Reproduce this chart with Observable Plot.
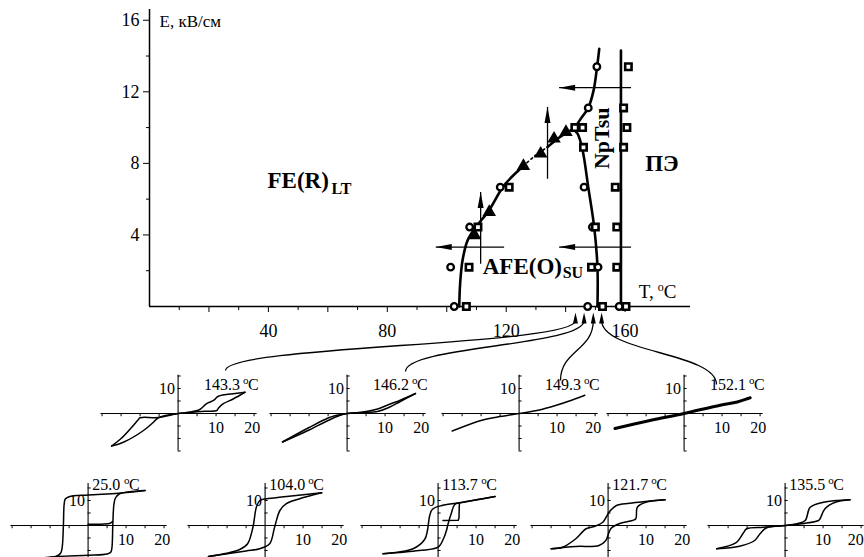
<!DOCTYPE html>
<html><head><meta charset="utf-8">
<script src="https://cdn.jsdelivr.net/npm/d3@7"></script>
<script src="https://cdn.jsdelivr.net/npm/@observablehq/plot@0.6"></script>
<style>
body{margin:0;background:#fff;}
#fig{position:relative;width:864px;height:557px;overflow:hidden;font-family:"Liberation Serif",serif;background:#fff;}
#fig svg{position:absolute;overflow:visible;background:transparent !important;max-width:none;}
#fig svg, #fig svg text, #fig svg g{font-family:"Liberation Serif",serif !important;}
</style></head><body><div id="fig"></div>
<script>
// ---------- main phase diagram data ----------
const circT = [102.5,101.3,107.7,118.0,147.4,150.9,149.0,146.2,147.6,150.5,158.0];
const circE = [0,2.2,4.44,6.67,0,2.2,4.44,6.67,11.1,13.4,0];
const sqT = [106.6,107.5,110.5,121.0,143.1,145.7,146.0,152.4,148.7,150.0,160.3,157.2,157.2,156.7,159.5,160.6,159.5,161.1];
const sqE = [0,2.2,4.44,6.67,10.0,10.0,8.9,0,2.2,4.44,0,2.2,4.44,6.67,8.9,10.0,11.1,13.4];
const triT = [109.4,114.3,125.8,131.6,136.1,140.1];
const triE = [3.97,5.28,7.85,8.54,9.38,9.75];

const feLowT = [104.2,104.5,105.3,107.0,109.8,114.2,119.3,125.8];
const feLowE = [0,1.27,2.57,3.69,4.44,5.37,6.77,7.85];
const feDashT = [125.8,129.5,133.9];
const feDashE = [7.85,8.4,8.91];
const feHighT = [133.9,137.5,140.6,142.9];
const feHighE = [8.91,9.4,9.75,9.94];
const afeT = [150.7,150.7,149.6,147.6,145.7,144.0,142.3];
const afeE = [0,2.2,4.44,6.67,8.73,9.66,9.94];
const npT = [142.9,145.1,147.6,149.4,150.5,151.3];
const npE = [9.94,10.5,11.1,12.08,13.3,14.4];
const peT = [158.6,158.6];
const peE = [0,14.3];

const arrT1 = [119.3,162,162,111.4,133.9];
const arrE1 = [3.32,3.32,12.23,2.39,7.14];
const arrT2 = [96.3,137.8,137.8,111.4,133.9];
const arrE2 = [3.32,3.32,12.23,6.4,11.15];

const xTicksMajor = [20,40,60,80,100,120,140,160];
const xTicksMinor = [10,30,50,70,90,110,130,150];
const xTickLabels = [40,80,120,160];
const yTicksMajor = [4,8,12,16];
const yTicksMinor = [2,6,10,14];

// ---------- hysteresis insets data: [E, P] ----------
const insetTemps = ["143.3","146.2","149.3","152.1","25.0","104.0","113.7","121.7","135.5"];
const asc143 = [[-17.5,-13],[-14.4,-11.5],[-9.1,-6.8],[-6.5,-3.5],[-5.2,-1.7],[-3,-0.7],[0,0],[3.2,0.5],[7,0.9],[10.2,1.2],[10.6,2.1],[11.9,3.9],[14.6,5.9],[17.6,8.5]];
const desc143 = [[17.6,8.5],[15,8],[10.6,6.9],[9.3,5.2],[7.5,3.9],[5.7,1.6],[3,0.5],[0,0],[-5.2,-1.6],[-10,-1.7],[-10.5,-2.5],[-12.5,-6],[-15,-10],[-17.5,-13]];
const asc146 = [[-17,-11.4],[-10,-6.6],[-5,-2.8],[-2,-0.8],[0,0],[3,0.3],[5,0.4],[8,0.8],[11,2.4],[14,4.8],[18,8]];
const desc146 = [[18,8],[14,5.3],[11,3.6],[8,1.8],[5,0.8],[2,0.2],[0,0],[-3,-0.8],[-5,-1.8],[-10,-5.6],[-17,-11.4]];
const line149 = [[-17.6,-7],[-9.8,-2.7],[-5,-1.2],[0,0],[5,1.3],[9.8,3.3],[14,5.4],[17.3,7.3]];
const line152 = [[-18.2,-6],[-9,-2.8],[0,0],[9.5,3.3],[14,4.6],[17.4,6.3]];
const desc25 = [[15,14],[8,12.9],[0,12.2],[-5,11.5],[-6,10.6],[-6.3,8.5],[-6.5,0],[-6.8,-8.5],[-7.2,-11],[-8.2,-12.2],[-15,-13.5]];
const asc25 = [[-15,-13.5],[-8,-12.4],[0,-11.9],[5,-11.4],[6,-10.6],[6.3,-8.5],[6.5,0],[6.8,8.5],[7.2,11],[8.2,12.6],[15,14]];
const virgin25 = [[0,0.5],[5.8,0.9],[6.4,1.6]];
const desc104 = [[14.9,13.1],[5,11.5],[0.4,10.7],[-1.4,10],[-2.3,7.3],[-3.2,-0.7],[-4.6,-7.3],[-6.8,-9.7],[-14.9,-12.4]];
const asc104 = [[-14.9,-12.4],[-5,-10.2],[-1.4,-9.3],[1.2,-7.3],[2.5,-0.7],[3.9,6],[5.6,8.7],[9.1,10.7],[14.9,13.1]];
const desc113 = [[15,11.6],[6.6,9.3],[1,8],[-1.5,6.5],[-2.2,4],[-2.8,-2],[-3.5,-5.5],[-6.6,-9.3],[-14.5,-11.3]];
const asc113 = [[-14.5,-11.3],[-5,-10],[0,-8.7],[1.5,-5],[2.2,-2],[2.6,0.5],[3.5,5],[4.4,8.4],[6.6,9.3],[15,11.6]];
const inner113 = [[1.3,2],[5.3,2.1],[5.5,3],[5.6,9]];
const desc121 = [[15,10.3],[5.7,8.9],[2.2,8],[0.4,5.6],[-1.4,1.3],[-3.5,-0.3],[-5.8,-1.3],[-8.5,-5.3],[-12,-8.7],[-15,-9.3]];
const asc121 = [[-15,-9.3],[-8.5,-8.4],[-2.4,-8],[-0.6,-6],[0.7,-1.3],[2.9,0.7],[6.4,2],[7.3,2.7],[7.7,7.3],[9.9,9.3],[15,10.3]];
const desc135 = [[17.1,10.3],[10.1,9.3],[6.6,7.3],[5.3,2],[3.1,0.7],[0,0],[-5.7,-0.7],[-10.1,-1.3],[-11,-3],[-13,-7],[-18,-9.3]];
const asc135 = [[-18,-9.3],[-12,-8.3],[-8,-6],[-6.6,-3.3],[-5,-1],[0,0],[5,0.8],[8.8,2],[9.2,2.7],[10.5,6.7],[13.2,9.3],[17.1,10.3]];
const insetCurves = [
  [asc143, desc143], [asc146, desc146], [line149], [line152],
  [asc25, desc25, virgin25], [asc104, desc104], [asc113, desc113, inner113], [asc121, desc121], [asc135, desc135]
];

// ---------- layout ----------
const insetX = [178,347,519,684, 88,265,438,608,785];
const insetY = [413,413,413,413, 525,525,525,525,525];
const connOffset = [[47,-43],[58,-42],[41,-33],[32,-29]];

const W = 864, H = 557;
const mL = 149, mR = 174, mT = 9, mB = 251;
const xDom = [0,182], yDom = [0,16.6];
const sx = d3.scaleLinear(xDom, [mL, W - mR]);
const sy = d3.scaleLinear(yDom, [H - mB, mT]);

const headShape = (len, hw) => ({draw(ctx, l) {
  ctx.moveTo(0, -l); ctx.lineTo(-hw, -l + len); ctx.lineTo(hw, -l + len); ctx.closePath();
}});

const pts = (T, E) => T.map((t, i) => ({T: t, E: E[i]}));
const arrIdx = d3.range(arrT1.length);
const arrRot = arrIdx.map(i => {
  const dx = sx(arrT2[i]) - sx(arrT1[i]), dy = sy(arrE2[i]) - sy(arrE1[i]);
  return Math.atan2(dx, -dy) * 180 / Math.PI;
});

const connIdx = [0,1,2,3];
const connTemps = connIdx.map(i => +insetTemps[i]);
const connX1 = connIdx.map(i => sx.invert(insetX[i] + connOffset[i][0]));
const connY1 = connIdx.map(i => sy.invert(insetY[i] + connOffset[i][1]));
const tipE = sy.invert(H - mB + 6);
const baseE = sy.invert(H - mB + 14);

const font = {fontFamily: "Liberation Serif, serif"};

const main = Plot.plot({
  width: W, height: H,
  marginLeft: mL, marginRight: mR, marginTop: mT, marginBottom: mB,
  x: {domain: xDom, axis: null},
  y: {domain: yDom, axis: null},
  style: {...font, background: "transparent", overflow: "visible"},
  marks: [
    Plot.ruleY([0], {strokeWidth: 1.5}),
    Plot.ruleX([0], {strokeWidth: 1.5}),
    Plot.axisX({ticks: xTicksMajor, tickSize: 6, tickPadding: 12, fontSize: 18, label: null,
      tickFormat: d => xTickLabels.includes(d) ? String(d) : ""}),
    Plot.axisX({ticks: xTicksMinor, tickSize: 4, label: null, tickFormat: () => ""}),
    Plot.axisY({ticks: yTicksMajor, tickSize: 6, tickPadding: 4, fontSize: 18, label: null}),
    Plot.axisY({ticks: yTicksMinor, tickSize: 3, label: null, tickFormat: () => ""}),
    // phase boundaries
    Plot.line(pts(feLowT, feLowE), {x: "T", y: "E", curve: "catmull-rom", strokeWidth: 2.6}),
    Plot.line(pts(feDashT, feDashE), {x: "T", y: "E", curve: "catmull-rom", strokeWidth: 1.6, strokeDasharray: "2,3"}),
    Plot.line(pts(feHighT, feHighE), {x: "T", y: "E", curve: "catmull-rom", strokeWidth: 2.6}),
    Plot.line(pts(afeT, afeE), {x: "T", y: "E", curve: "catmull-rom", strokeWidth: 2.6}),
    Plot.line(pts(npT, npE), {x: "T", y: "E", curve: "catmull-rom", strokeWidth: 2.6}),
    Plot.line(pts(peT, peE), {x: "T", y: "E", strokeWidth: 2.6}),
    // arrows
    Plot.link(arrIdx, {x1: i => arrT1[i], y1: i => arrE1[i], x2: i => arrT2[i], y2: i => arrE2[i], strokeWidth: 1.3}),
    Plot.vector(arrIdx, {x: i => arrT2[i], y: i => arrE2[i], rotate: i => arrRot[i], length: 16, anchor: "end",
      shape: headShape(16, 3), fill: "black", stroke: "none"}),
    // connectors to insets
    Plot.link(connIdx, {x1: i => connX1[i], y1: i => connY1[i], x2: i => connTemps[i], y2: baseE, curve: "bump-y", strokeWidth: 1.3}),
    Plot.vector(connIdx, {x: i => connTemps[i], y: tipE, rotate: 0, length: 11, anchor: "end",
      shape: headShape(11, 2.5), fill: "black", stroke: "none"}),
    // data points
    Plot.dot(pts(circT, circE), {x: "T", y: "E", r: 3.3, stroke: "black", fill: "white", strokeWidth: 2.3}),
    Plot.dot(pts(sqT, sqE), {x: "T", y: "E", symbol: "square", r: 3.6, stroke: "black", fill: "white", strokeWidth: 2.6}),
    Plot.dot(pts(triT, triE), {x: "T", y: "E", symbol: "triangle", r: 5, fill: "black", stroke: "none"}),
    // labels
    Plot.text(["E, кВ/см"], {x: 3.4, y: 15.6, textAnchor: "start", lineAnchor: "bottom", fontSize: 17}),
    Plot.text(["FE(R)"], {x: 39.7, y: 6.6, textAnchor: "start", lineAnchor: "bottom", fontSize: 23, fontWeight: "bold"}),
    Plot.text(["LT"], {x: 39.7, y: 6.3, dx: 64, textAnchor: "start", lineAnchor: "bottom", fontSize: 16, fontWeight: "bold"}),
    Plot.text(["AFE(O)"], {x: 112.1, y: 1.84, textAnchor: "start", lineAnchor: "bottom", fontSize: 23, fontWeight: "bold"}),
    Plot.text(["SU"], {x: 112.1, y: 1.6, dx: 80, textAnchor: "start", lineAnchor: "bottom", fontSize: 16, fontWeight: "bold"}),
    Plot.text(["NpTsu"], {x: 152.2, y: 9.4, rotate: -90, textAnchor: "middle", lineAnchor: "middle", fontSize: 22, fontWeight: "bold"}),
    Plot.text(["ПЭ"], {x: 172.4, y: 7.6, textAnchor: "middle", lineAnchor: "bottom", fontSize: 23, fontWeight: "bold"}),
    Plot.text(["T,"], {x: 164.6, y: 0.45, textAnchor: "start", lineAnchor: "bottom", fontSize: 19}),
    Plot.text(["o"], {x: 164.6, y: 0.45, dx: 19, dy: -7, textAnchor: "start", lineAnchor: "bottom", fontSize: 12}),
    Plot.text(["C"], {x: 164.6, y: 0.45, dx: 25, textAnchor: "start", lineAnchor: "bottom", fontSize: 19})
  ]
});
main.style.left = "0px"; main.style.top = "0px";
const fig = document.getElementById("fig");
fig.appendChild(main);

// ---------- insets ----------
const kx = 3.8, ky = 2.5;
const ixDom = [-22, 22], iyDom = [-18, 18];
insetTemps.forEach((temp, i) => {
  const row2 = i >= 4;
  const yTop = row2 ? 16.8 : 15.3, yBot = -15;
  const tx = row2 ? 1.1 : 6.8, ty = row2 ? 14 : 9.2;
  const thick = i === 3;
  const last = i === insetTemps.length - 1;
  const curves = insetCurves[i];
  const svg = Plot.plot({
    width: (ixDom[1] - ixDom[0]) * kx, height: (iyDom[1] - iyDom[0]) * ky, margin: 0,
    x: {domain: ixDom, axis: null}, y: {domain: iyDom, axis: null},
    style: {...font, background: "transparent", overflow: "visible"},
    marks: [
      Plot.ruleY([0], {x1: -20.3, x2: 20.8, strokeWidth: 1.1}),
      Plot.ruleX([0], {y1: yBot, y2: yTop, strokeWidth: 1.1}),
      Plot.ruleX([-20,-15,-10,-5,5,10,15,20], {y1: 0, y2: -1.3, strokeWidth: 1}),
      Plot.ruleY([-15,-10,-5,5,10,15], {x1: 0, x2: 0.8, strokeWidth: 1}),
      ...curves.map((c, k) => Plot.line(c, {x: d => d[0], y: d => d[1],
        curve: (i === 6 && k === 2) ? "linear" : "catmull-rom", strokeWidth: thick ? 3 : 1.5})),
      Plot.text(["10"], {x: 0, y: 10, dx: -3, textAnchor: "end", lineAnchor: "middle", fontSize: 16}),
      Plot.text(["10", "20"], {x: [10, last ? 18.6 : 19.5], y: [0, 0], text: d => d, dy: 14, textAnchor: "middle", lineAnchor: "middle", fontSize: 16}),
      Plot.text([temp], {x: tx, y: ty, textAnchor: "start", lineAnchor: "bottom", fontSize: 16}),
      Plot.text(["o"], {x: tx, y: ty, dx: temp.length * 7.2 + 3, dy: -6, textAnchor: "start", lineAnchor: "bottom", fontSize: 11}),
      Plot.text(["C"], {x: tx, y: ty, dx: temp.length * 7.2 + 8, textAnchor: "start", lineAnchor: "bottom", fontSize: 16})
    ]
  });
  svg.style.left = (insetX[i] + ixDom[0] * kx) + "px";
  svg.style.top = (insetY[i] - iyDom[1] * ky) + "px";
  fig.appendChild(svg);
});
</script></body></html>
